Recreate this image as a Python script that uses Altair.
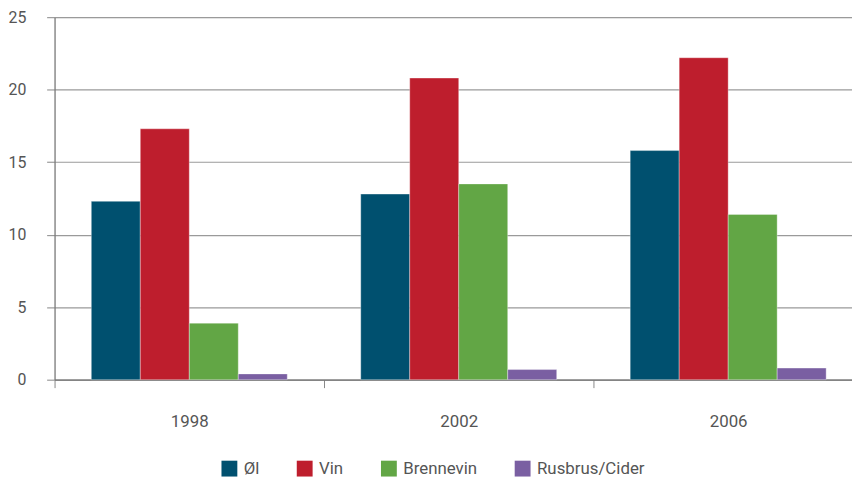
import altair as alt
import pandas as pd

years = ["1998", "2002", "2006"]
drinks = ["Øl", "Vin", "Brennevin", "Rusbrus/Cider"]
ol = [12.3, 12.8, 15.8]
vin = [17.3, 20.8, 22.2]
brennevin = [3.9, 13.5, 11.4]
rusbrus = [0.4, 0.7, 0.8]
colors = ["#00506f", "#be1e2d", "#62a645", "#7a5fa2"]

rows = []
for i, y in enumerate(years):
    for d, vals in zip(drinks, [ol, vin, brennevin, rusbrus]):
        rows.append({"year": y, "drink": d, "value": vals[i]})
df = pd.DataFrame(rows)

FONT = "Roboto"

chart = alt.Chart(df).mark_bar(
    stroke="#ffffff", strokeWidth=1, strokeOpacity=0.35
).encode(
    x=alt.X("year:N", sort=years, title=None,
            scale=alt.Scale(range=[0, 816], paddingInner=0, paddingOuter=0),
            axis=alt.Axis(labelAngle=0, tickBand="extent", tickSize=8, tickColor="#888888",
                          domainColor="#777777", domainWidth=1.2, labelPadding=26,
                          labelFontSize=17, labelColor="#555555", labelFont=FONT,
                          grid=False)),
    xOffset=alt.XOffset("drink:N", sort=drinks, scale=alt.Scale(paddingInner=0, paddingOuter=0.75)),
    y=alt.Y("value:Q", title=None,
            scale=alt.Scale(domain=[0, 25], nice=False),
            axis=alt.Axis(values=[0, 5, 10, 15, 20, 25], tickSize=8, tickColor="#9a9a9a",
                          tickWidth=1.2, domainColor="#777777", domainWidth=1.2,
                          labelPadding=21, labelFontSize=16, labelColor="#555555",
                          labelFont=FONT, grid=True, gridColor="#9a9a9a", gridWidth=1.2)),
    color=alt.Color("drink:N", sort=drinks,
                    scale=alt.Scale(domain=drinks, range=colors),
                    legend=alt.Legend(title=None, orient="none", direction="horizontal",
                                      legendX=168, legendY=447, symbolType="square",
                                      symbolSize=256, symbolStrokeWidth=0, columnPadding=37,
                                      labelOffset=6, labelFontSize=17, labelColor="#555555",
                                      labelFont=FONT, padding=0)),
).properties(
    width=805, height=366,
    autosize=alt.AutoSizeParams(type="none"),
    padding={"left": 47, "top": 7, "right": 0, "bottom": 97},
).configure_view(
    fill="#f0f4f8", stroke=None
).configure(background="#ffffff")

chart.save("out.html", embed_options={"renderer": "svg", "actions": False})
